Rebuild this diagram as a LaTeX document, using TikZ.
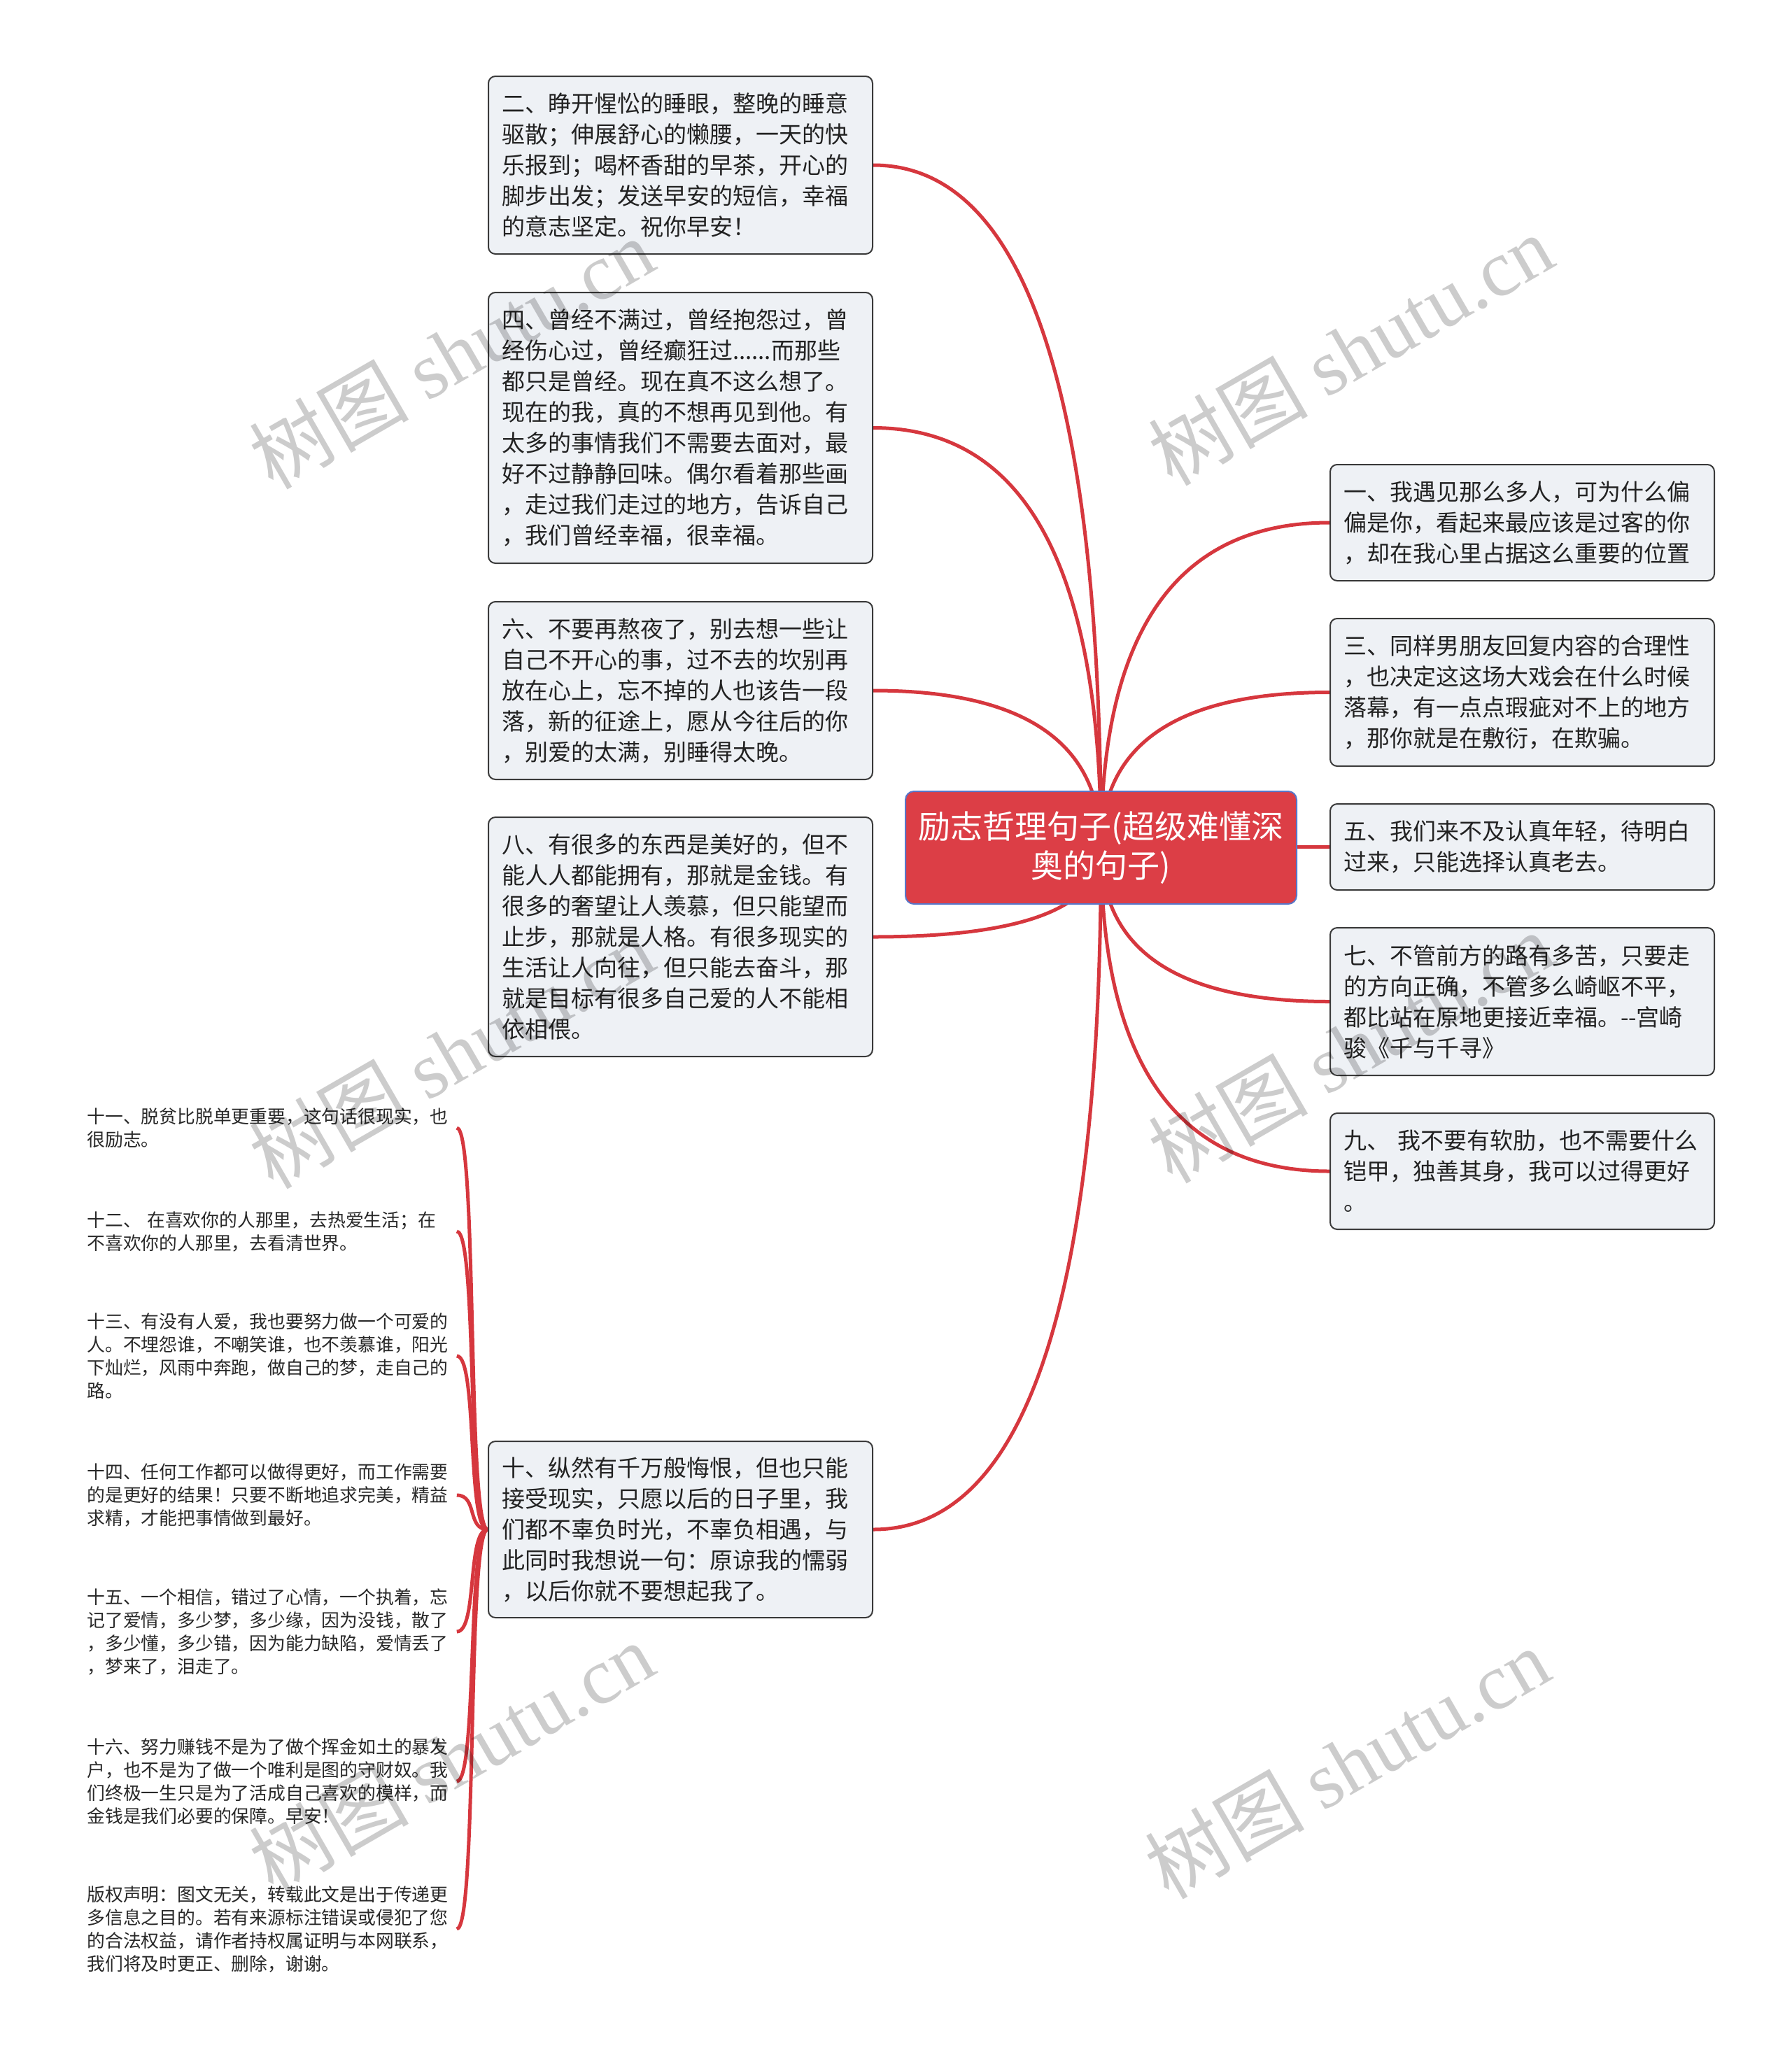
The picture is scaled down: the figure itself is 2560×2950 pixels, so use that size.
\documentclass[tikz,border=0pt]{standalone}
\usepackage{fontspec}
\setmainfont{Noto Sans CJK SC}
\newfontfamily\wmserif{Liberation Serif}
\usetikzlibrary{calc}
\definecolor{boxfill}{RGB}{238,241,245}
\definecolor{boxline}{RGB}{58,58,58}
\definecolor{rootred}{RGB}{220,62,70}
\definecolor{rootblue}{RGB}{88,118,200}
\definecolor{linered}{RGB}{214,55,62}
\definecolor{txt}{RGB}{34,34,34}
\definecolor{itemtxt}{RGB}{40,40,40}
\pgfdeclarelayer{bg}
\pgfsetlayers{bg,main}
\newcommand\mlink[2]{%
  \coordinate (q-#1) at (#1.#2 -| root.center);
  \draw[conn] (root.center) .. controls ($(root.center)!0.667!(q-#1)$) and ($(#1.#2)!0.667!(q-#1)$) .. (#1.#2);}
\tikzset{
  box/.style={draw=boxline, line width=1pt, fill=boxfill, rounded corners=5pt,
    minimum width=274.5pt, text width=255.5pt, inner xsep=9.5pt, inner ysep=0pt,
    align=left, font=\fontsize{16.5pt}{22pt}\selectfont, text=txt},
  rootbox/.style={draw=rootblue, line width=1pt, fill=rootred, rounded corners=6pt,
    minimum width=279.5pt, minimum height=80.5pt, inner sep=0pt, align=center,
    text=white, font=\fontsize{23pt}{28pt}\selectfont},
  item/.style={text width=261pt, inner xsep=3pt, inner ysep=0pt, align=left,
    font=\fontsize{12.9pt}{16.5pt}\selectfont, text=itemtxt, anchor=west},
  conn/.style={draw=linered, line width=2.5pt},
  wm/.style={text=black, opacity=0.2, rotate=30, font=\fontsize{57pt}{57pt}\selectfont}
}
\begin{document}
\begin{tikzpicture}[x=0.5pt, y=-0.5pt]
\useasboundingbox (0,0) rectangle (2560,2950);
\begin{pgfonlayer}{bg}
\fill[white] (0,0) rectangle (2560,2950);
\end{pgfonlayer}

\node[rootbox] (root) at (1573.5,1211.5) {励志哲理句子(超级难懂深\\奥的句子)};

% left boxes
\node[box, minimum height=127pt] (n2) at (972.5,236) {二、睁开惺忪的睡眼，整晚的睡意\\驱散；伸展舒心的懒腰，一天的快\\乐报到；喝杯香甜的早茶，开心的\\脚步出发；发送早安的短信，幸福\\的意志坚定。祝你早安！};
\node[box, minimum height=193.5pt] (n4) at (972.5,611.5) {四、曾经不满过，曾经抱怨过，曾\\经伤心过，曾经癫狂过......而那些\\都只是曾经。现在真不这么想了。\\现在的我，真的不想再见到他。有\\太多的事情我们不需要去面对，最\\好不过静静回味。偶尔看着那些画\\，走过我们走过的地方，告诉自己\\，我们曾经幸福，很幸福。};
\node[box, minimum height=127pt] (n6) at (972.5,987) {六、不要再熬夜了，别去想一些让\\自己不开心的事，过不去的坎别再\\放在心上，忘不掉的人也该告一段\\落，新的征途上，愿从今往后的你\\，别爱的太满，别睡得太晚。};
\node[box, minimum height=171pt] (n8) at (972.5,1339) {八、有很多的东西是美好的，但不\\能人人都能拥有，那就是金钱。有\\很多的奢望让人羡慕，但只能望而\\止步，那就是人格。有很多现实的\\生活让人向往，但只能去奋斗，那\\就是目标有很多自己爱的人不能相\\依相偎。};
\node[box, minimum height=126pt] (n10) at (972.5,2186) {十、纵然有千万般悔恨，但也只能\\接受现实，只愿以后的日子里，我\\们都不辜负时光，不辜负相遇，与\\此同时我想说一句：原谅我的懦弱\\，以后你就不要想起我了。};

% right boxes
\node[box, minimum height=83pt] (n1) at (2175.5,747) {一、我遇见那么多人，可为什么偏\\偏是你，看起来最应该是过客的你\\，却在我心里占据这么重要的位置};
\node[box, minimum height=105.5pt] (n3) at (2175.5,989.5) {三、同样男朋友回复内容的合理性\\，也决定这这场大戏会在什么时候\\落幕，有一点点瑕疵对不上的地方\\，那你就是在敷衍，在欺骗。};
\node[box, minimum height=61.5pt] (n5) at (2175.5,1210.5) {五、我们来不及认真年轻，待明白\\过来，只能选择认真老去。};
\node[box, minimum height=105.5pt] (n7) at (2175.5,1431.5) {七、不管前方的路有多苦，只要走\\的方向正确，不管多么崎岖不平，\\都比站在原地更接近幸福。{-}{-}宫崎\\骏《千与千寻》};
\node[box, minimum height=83pt] (n9) at (2175.5,1674) {九、~我不要有软肋，也不需要什么\\铠甲，独善其身，我可以过得更好\\。};

% left small items
\node[item] (n11) at (118,1612) {十一、脱贫比脱单更重要，这句话很现实，也\\很励志。};
\node[item] (n12) at (118,1760) {十二、~在喜欢你的人那里，去热爱生活；在\\不喜欢你的人那里，去看清世界。};
\node[item] (n13) at (118,1938) {十三、有没有人爱，我也要努力做一个可爱的\\人。不埋怨谁，不嘲笑谁，也不羡慕谁，阳光\\下灿烂，风雨中奔跑，做自己的梦，走自己的\\路。};
\node[item] (n14) at (118,2137) {十四、任何工作都可以做得更好，而工作需要\\的是更好的结果！只要不断地追求完美，精益\\求精，才能把事情做到最好。};
\node[item] (n15) at (118,2332) {十五、一个相信，错过了心情，一个执着，忘\\记了爱情，多少梦，多少缘，因为没钱，散了\\，多少懂，多少错，因为能力缺陷，爱情丢了\\，梦来了，泪走了。};
\node[item] (n16) at (118,2546) {十六、努力赚钱不是为了做个挥金如土的暴发\\户，也不是为了做一个唯利是图的守财奴。我\\们终极一生只是为了活成自己喜欢的模样，而\\金钱是我们必要的保障。早安！};
\node[item] (n17) at (118,2757) {版权声明：图文无关，转载此文是出于传递更\\多信息之目的。若有来源标注错误或侵犯了您\\的合法权益，请作者持权属证明与本网联系，\\我们将及时更正、删除，谢谢。};

\begin{pgfonlayer}{bg}
\mlink{n2}{east}
\mlink{n4}{east}
\mlink{n6}{east}
\mlink{n8}{east}
\mlink{n10}{east}
\mlink{n1}{west}
\mlink{n3}{west}
\mlink{n5}{west}
\mlink{n7}{west}
\mlink{n9}{west}
\foreach \k in {11,12,13,14,15,16,17}{
  \draw[conn] (n\k.east) .. controls +(15pt,0) and +(-15pt,0) .. (n10.west);
}
\end{pgfonlayer}

% watermarks
\node[wm] (w1) at (645,505) {树图 {\wmserif shutu.cn}};
\node[wm] (w2) at (1930,500) {树图 {\wmserif shutu.cn}};
\node[wm] (w3) at (645,1505) {树图 {\wmserif shutu.cn}};
\node[wm] (w4) at (1930,1497) {树图 {\wmserif shutu.cn}};
\node[wm] (w5) at (645,2512) {树图 {\wmserif shutu.cn}};
\node[wm] (w6) at (1925,2520) {树图 {\wmserif shutu.cn}};
\end{tikzpicture}
\end{document}
